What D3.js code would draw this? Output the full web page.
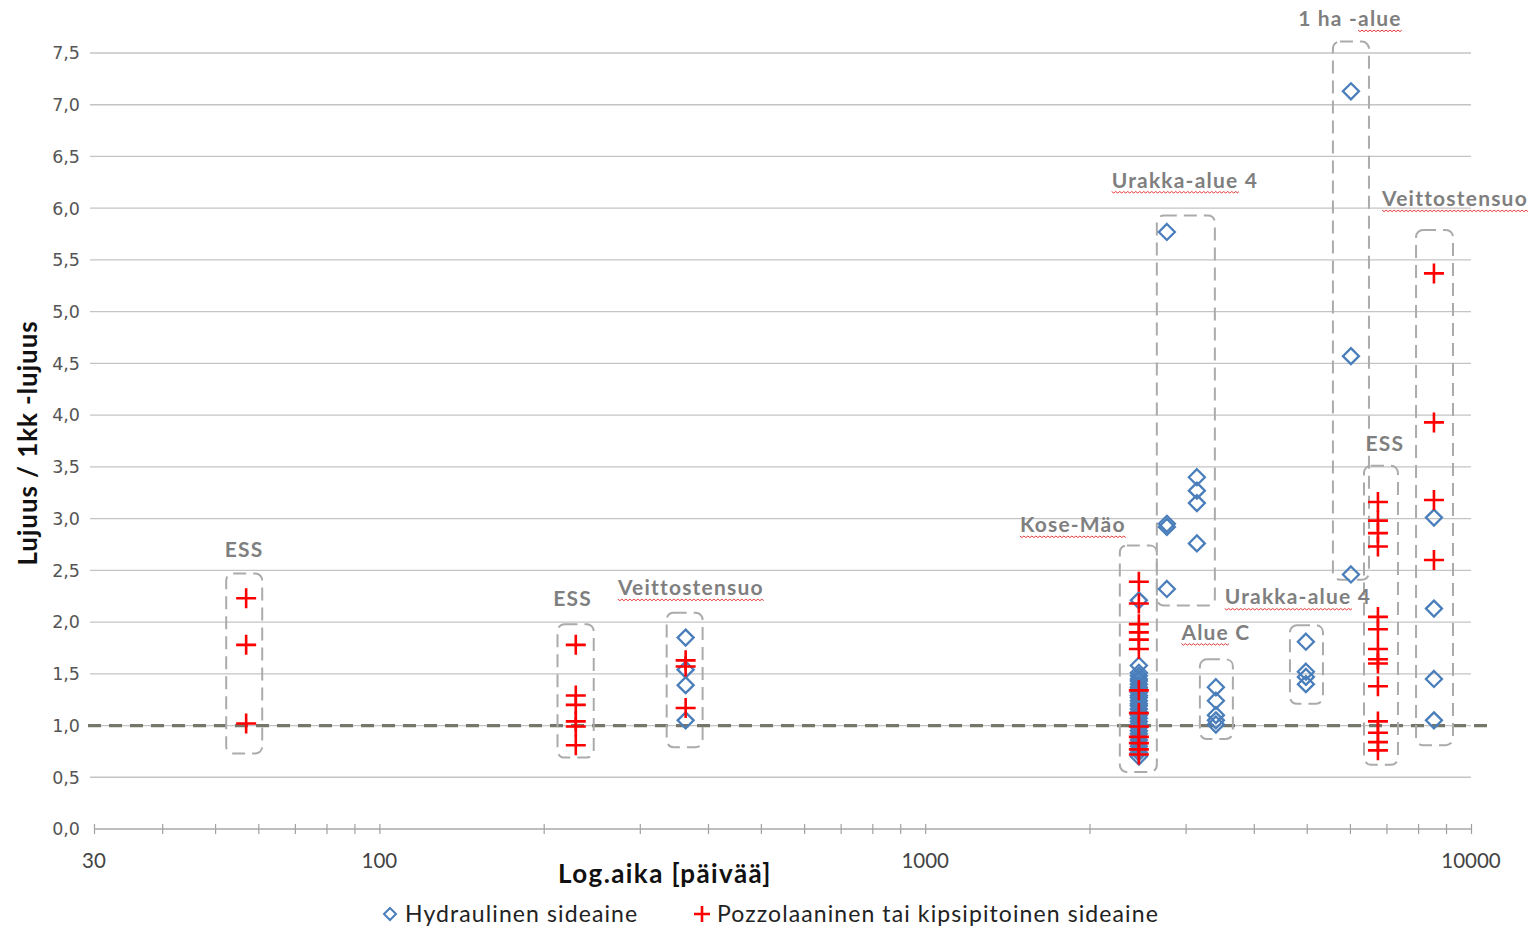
<!DOCTYPE html>
<html><head><meta charset="utf-8">
<script src="https://cdn.jsdelivr.net/npm/d3@7/dist/d3.min.js"></script>
<style>body{margin:0;background:#fff;} svg{display:block;}</style>
</head><body>
<svg id="chart" width="1528" height="929"></svg>
<script>
// ---------- DATA ----------
const yTicks = [0,0.5,1,1.5,2,2.5,3,3.5,4,4.5,5,5.5,6,6.5,7,7.5];
const xTickLabels = [30,100,1000,10000];
const xMinorTicks = [30,40,50,60,70,80,90,100,200,300,400,500,600,700,800,900,1000,2000,3000,4000,5000,6000,7000,8000,9000,10000];
const seriesNames = ["Hydraulinen sideaine","Pozzolaaninen tai kipsipitoinen sideaine"];

// Hydraulinen sideaine [days, ratio]
const hydraulinen = [
  [364,1.85],[364,1.54],[364,1.39],[364,1.05],
  [2463,2.21],[2463,1.58],[2463,1.51],[2463,1.48],[2463,1.45],[2463,1.43],[2463,1.40],[2463,1.37],[2463,1.35],
  [2463,1.32],[2463,1.29],[2463,1.27],[2463,1.24],[2463,1.21],[2463,1.19],[2463,1.16],[2463,1.13],[2463,1.10],
  [2463,1.07],[2463,1.04],[2463,1.01],[2463,0.98],[2463,0.95],[2463,0.92],[2463,0.89],[2463,0.86],[2463,0.83],
  [2463,0.80],[2463,0.77],[2463,0.74],[2463,0.70],
  [2772,5.77],[2772,2.95],[2772,2.92],[2772,2.32],
  [3146,3.40],[3146,3.27],[3146,3.15],[3146,2.76],
  [3409,1.37],[3409,1.24],[3409,1.10],[3409,1.05],[3409,1.01],
  [4983,1.81],[4983,1.52],[4983,1.47],[4983,1.40],
  [6026,7.13],[6026,4.57],[6026,2.46],
  [8553,3.01],[8553,2.13],[8553,1.45],[8553,1.05]
];
// Pozzolaaninen tai kipsipitoinen sideaine [days, ratio]
const pozzolaaninen = [
  [57,2.23],[57,1.78],[57,1.02],
  [229,1.78],[229,1.29],[229,1.20],[229,1.04],[229,0.99],[229,0.81],
  [364,1.63],[364,1.57],[364,1.17],
  [2463,2.39],[2463,2.18],[2463,1.98],[2463,1.90],[2463,1.83],[2463,1.74],[2463,1.34],
  [2463,1.12],[2463,0.99],[2463,0.89],[2463,0.83],[2463,0.77],[2463,0.72],
  [6753,3.16],[6753,2.98],[6753,2.86],[6753,2.73],[6753,2.05],[6753,1.93],[6753,1.74],[6753,1.64],[6753,1.60],
  [6753,1.38],[6753,1.04],[6753,0.93],[6753,0.84],[6753,0.76],
  [8553,5.37],[8553,3.93],[8553,3.18],[8553,2.60]
];
// Group boxes [dayFrom, dayTo, valueTop, valueBottom]
const groupBoxes = [
  [52.4,61.0,2.47,0.73],
  [212,247,1.98,0.69],
  [336,391,2.09,0.79],
  [2273,2657,2.74,0.55],
  [2657,3394,5.93,2.16],
  [3186,3662,1.64,0.87],
  [4659,5355,1.97,1.21],
  [5585,6502,7.61,2.41],
  [6367,7348,3.51,0.62],
  [7931,9268,5.79,0.81]
];
// Group labels [text, day, value, underlineFromChar, underlineToChar]
const groupLabels = [
  ["ESS",56.5,2.63,null,null],
  ["ESS",226,2.16,null,null],
  ["Veittostensuo",372,2.26,0,13],
  ["Kose-Mäo",1864,2.87,0,8],
  ["Urakka-alue 4",2991,6.20,0,11],
  ["1 ha -alue",6001,7.76,6,10],
  ["Veittostensuo",9348,6.02,0,13],
  ["ESS",6955,3.65,null,null],
  ["Urakka-alue 4",4818,2.17,0,11],
  ["Alue C",3409,1.83,0,4]
];
const refLevel = 1.0;

// ---------- CHART ----------
const svg = d3.select("#chart");
const x = d3.scaleLog().domain([30,10000]).range([94,1471]);
const y = d3.scaleLinear().domain([0,7.5]).range([829,53]);
const fmt = v => d3.format(".1f")(v).replace(".", ",");

svg.append("rect").attr("width",1528).attr("height",929).attr("fill","#fff");

// grid
svg.append("g").selectAll("line").data(yTicks.filter(d=>d>0)).join("line")
  .attr("x1",90).attr("x2",1471).attr("y1",d=>y(d)).attr("y2",d=>y(d))
  .attr("stroke","#c4c4c4").attr("stroke-width",1.3);

// y tick labels
svg.append("g").selectAll("text").data(yTicks).join("text")
  .attr("x",80).attr("y",d=>y(d)).attr("dy","0.36em")
  .attr("text-anchor","end").attr("font-family","DejaVu Sans").attr("font-size",17.5)
  .attr("fill","#555").text(fmt);

// x axis
const xAxis = d3.axisBottom(x).tickValues(xMinorTicks).tickSize(10).tickFormat("");
const gx = svg.append("g").attr("transform",`translate(0,${y(0)-5})`).call(xAxis);
gx.select(".domain").remove();
gx.selectAll(".tick line").attr("stroke","#a0a0a0").attr("stroke-width",1.2);
svg.append("line").attr("x1",x(30)).attr("x2",x(10000)).attr("y1",y(0)).attr("y2",y(0))
  .attr("stroke","#a8a8a8").attr("stroke-width",1.6);
svg.append("g").selectAll("text").data(xTickLabels).join("text")
  .attr("x",d=>x(d)).attr("y",868).attr("text-anchor","middle")
  .attr("font-family","Lato").attr("font-size",20.5).attr("fill","#444").text(d=>d);

// reference line at 1.0
svg.append("line").attr("x1",88).attr("x2",1492).attr("y1",y(refLevel)).attr("y2",y(refLevel))
  .attr("stroke","#76766a").attr("stroke-width",3.2).attr("stroke-dasharray","13,8");

// group boxes
svg.append("g").selectAll("rect").data(groupBoxes).join("rect")
  .attr("x",d=>x(d[0])).attr("width",d=>x(d[1])-x(d[0]))
  .attr("y",d=>y(d[2])).attr("height",d=>y(d[3])-y(d[2]))
  .attr("rx",7).attr("fill","none").attr("stroke","#ababab").attr("stroke-width",2)
  .attr("stroke-dasharray","13,7");

// group labels with spellcheck squiggles
const lg = svg.append("g");
groupLabels.forEach(d=>{
  const t = lg.append("text").attr("x",x(d[1])).attr("y",y(d[2])).attr("text-anchor","middle")
    .attr("font-family","Lato").attr("font-weight","bold").attr("font-size",21)
    .attr("letter-spacing",1.2).attr("fill","#7f7f7f").text(d[0]);
  if (d[3]!==null){
    const n = t.node();
    const x0 = n.getStartPositionOfChar(d[3]).x;
    const x1 = n.getEndPositionOfChar(d[4]-1).x;
    const by = y(d[2]) + 4;
    let p = `M${x0},${by}`;
    for (let xx=x0, k=0; xx<x1; xx+=2, k++) p += ` L${Math.min(xx+2,x1)},${by + (k%2===0?1.5:0)}`;
    lg.append("path").attr("d",p).attr("fill","none").attr("stroke","#e23b3b").attr("stroke-width",1);
  }
});

// markers (diamonds first, crosses on top)
const diamond = "M0,-8L8,0L0,8L-8,0Z";
const cross = "M-10,0H10M0,-10V10";
svg.append("g").selectAll("path").data(hydraulinen).join("path")
  .attr("transform",d=>`translate(${x(d[0])},${y(d[1])})`).attr("d",diamond)
  .attr("fill","none").attr("stroke","#4a7ebb").attr("stroke-width",2.3);
svg.append("g").selectAll("path").data(pozzolaaninen).join("path")
  .attr("transform",d=>`translate(${x(d[0])},${y(d[1])})`).attr("d",cross)
  .attr("fill","none").attr("stroke","#ff0000").attr("stroke-width",2.6);

// axis titles
svg.append("text").attr("transform","translate(37,443) rotate(-90)").attr("text-anchor","middle")
  .attr("font-family","Lato").attr("font-weight","bold").attr("font-size",26).attr("letter-spacing",0.9)
  .attr("fill","#111").text("Lujuus / 1kk -lujuus");
svg.append("text").attr("x",665).attr("y",883).attr("text-anchor","middle")
  .attr("font-family","Lato").attr("font-weight","bold").attr("font-size",26).attr("letter-spacing",1.4)
  .attr("fill","#111").text("Log.aika [päivää]");

// legend
const leg = svg.append("g");
leg.append("path").attr("transform","translate(390,914)").attr("d","M0,-6L6,0L0,6L-6,0Z")
  .attr("fill","none").attr("stroke","#4a7ebb").attr("stroke-width",2);
leg.append("text").attr("x",405).attr("y",922).attr("font-family","Lato").attr("font-size",23)
  .attr("letter-spacing",1.1).attr("fill","#222").text(seriesNames[0]);
leg.append("path").attr("transform","translate(702,914)").attr("d","M-8,0H8M0,-8V8")
  .attr("fill","none").attr("stroke","#ff0000").attr("stroke-width",2.6);
leg.append("text").attr("x",717).attr("y",922).attr("font-family","Lato").attr("font-size",23)
  .attr("letter-spacing",1.1).attr("fill","#222").text(seriesNames[1]);
</script>
</body></html>
